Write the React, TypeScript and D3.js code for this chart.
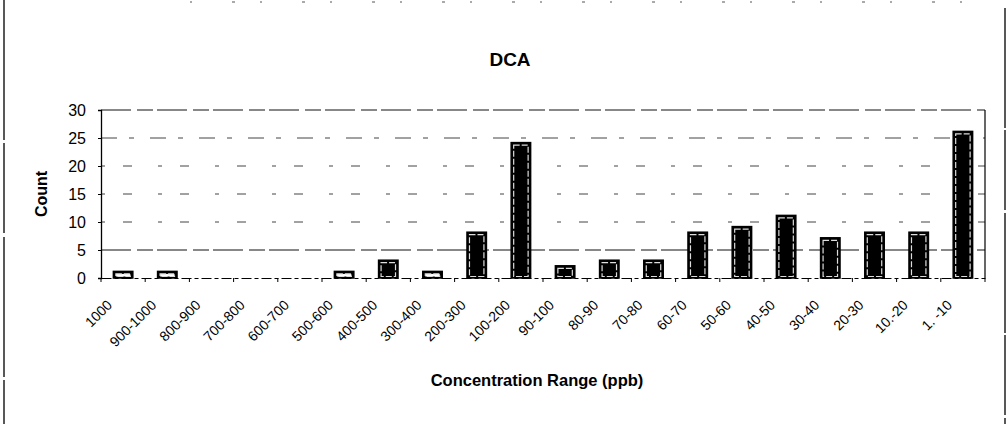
import React, { useRef, useEffect } from 'react'
import * as d3 from 'd3'

// concentration ranges (ppb), as printed under the axis
const categories = [
  '1000', '900-1000', '800-900', '700-800', '600-700', '500-600', '400-500',
  '300-400', '200-300', '100-200', '90-100', '80-90', '70-80', '60-70',
  '50-60', '40-50', '30-40', '20-30', '10.-20', '1. -10',
]
const counts = [1, 1, 0, 0, 0, 1, 3, 1, 8, 24, 2, 3, 3, 8, 9, 11, 7, 8, 8, 26]
const yTicks = [0, 5, 10, 15, 20, 25, 30]

const App: React.FC = () => {
  const svgRef = useRef<SVGSVGElement | null>(null)

  useEffect(() => {
    const svg = d3.select(svgRef.current)
    svg.selectAll('*').remove()

    const width = 1008
    const height = 424
    const margin = { top: 110, right: 23, bottom: 146, left: 101 }
    const font = '"Liberation Sans", Arial, sans-serif'

    svg.attr('width', width).attr('height', height)

    // scanned page frame
    svg.append('line').attr('x1', 4).attr('x2', 4).attr('y1', 0).attr('y2', height)
      .attr('stroke', '#222').attr('stroke-width', 1.5).attr('stroke-dasharray', '140 3 90 4')
    svg.append('line').attr('x1', 1005).attr('x2', 1005).attr('y1', 8).attr('y2', height)
      .attr('stroke', '#222').attr('stroke-width', 1.5).attr('stroke-dasharray', '120 2 80 3')
    svg.append('line').attr('x1', 190).attr('x2', 1000).attr('y1', 2).attr('y2', 2)
      .attr('stroke', '#555').attr('stroke-width', 1).attr('stroke-dasharray', '2 40 3 25')

    const x = d3.scaleBand()
      .domain(categories)
      .range([margin.left, width - margin.right])
      .paddingInner(0.56)
      .paddingOuter(0.28)

    const y = d3.scaleLinear()
      .domain([0, 30])
      .range([height - margin.bottom, margin.top])

    // gridlines (broken up, like the scan)
    svg.append('g')
      .selectAll('line')
      .data(yTicks.filter((t) => t > 0))
      .enter()
      .append('line')
      .attr('x1', margin.left)
      .attr('x2', width - margin.right)
      .attr('y1', (d) => y(d))
      .attr('y2', (d) => y(d))
      .attr('stroke', (d) => (d === 5 || d === 30 ? '#111' : '#444'))
      .attr('stroke-width', 1)
      .attr('stroke-dasharray', (d) => (d === 5 || d === 30 ? '30 6 16 4' : d === 25 ? '16 12 5 16' : '4 18 9 26'))

    // plot box
    svg.append('line')
      .attr('x1', width - margin.right).attr('x2', width - margin.right)
      .attr('y1', margin.top).attr('y2', y(0))
      .attr('stroke', '#000').attr('stroke-width', 1.2)

    const bw = x.bandwidth()
    const bars = svg.append('g')
      .selectAll('g')
      .data(categories.map((c, i) => ({ c, v: counts[i] })))
      .enter()
      .append('g')

    bars.append('rect')
      .attr('x', (d) => x(d.c)!)
      .attr('y', (d) => y(d.v) - 1)
      .attr('width', bw)
      .attr('height', (d) => (d.v > 0 ? y(0) - y(d.v) + 1 : 0))
      .attr('fill', '#000')
      .attr('stroke', '#000')
      .attr('stroke-width', 1.5)

    bars.filter((d) => d.v > 0)
      .append('rect')
      .attr('x', (d) => x(d.c)! + 2.5)
      .attr('y', (d) => y(d.v) + 1.5)
      .attr('width', bw - 5)
      .attr('height', (d) => Math.max(0, y(0) - y(d.v) - 3))
      .attr('fill', (d) => (d.v > 1 ? '#000' : '#fff'))
      .attr('stroke', '#ddd')
      .attr('stroke-width', 1.2)
      .attr('stroke-dasharray', '6 2')

    // x axis
    const xAxis = svg.append('g')
      .attr('transform', `translate(0,${y(0)})`)
      .call(d3.axisBottom(x).tickSize(0).tickPadding(0))
    xAxis.select('.domain').attr('stroke', '#000').attr('stroke-dasharray', '10 3 4 3')
    xAxis.selectAll('text').remove()

    // small ticks between categories
    svg.append('g')
      .selectAll('line')
      .data(d3.range(categories.length + 1))
      .enter()
      .append('line')
      .attr('x1', (i) => margin.left + i * x.step())
      .attr('x2', (i) => margin.left + i * x.step())
      .attr('y1', y(0))
      .attr('y2', y(0) + 4)
      .attr('stroke', '#000')

    svg.append('g')
      .selectAll('text')
      .data(categories)
      .enter()
      .append('text')
      .attr('transform', (d) => `translate(${x(d)! + bw / 2 - 10},${y(0) + 28}) rotate(-45)`)
      .attr('text-anchor', 'end')
      .attr('font-family', font)
      .attr('font-size', 14)
      .attr('fill', '#000')
      .text((d) => d)

    // y axis
    const yAxis = svg.append('g')
      .attr('transform', `translate(${margin.left},0)`)
      .call(d3.axisLeft(y).tickValues(yTicks).tickSize(3).tickPadding(12))
    yAxis.select('.domain').attr('stroke', '#000').attr('stroke-width', 1.3)
    yAxis.selectAll('text')
      .attr('font-family', font)
      .attr('font-size', 16)
      .attr('fill', '#000')

    svg.append('text')
      .attr('transform', `translate(47,${(margin.top + y(0)) / 2}) rotate(-90)`)
      .attr('text-anchor', 'middle')
      .attr('font-family', font)
      .attr('font-size', 16)
      .attr('font-weight', 'bold')
      .text('Count')

    svg.append('text')
      .attr('x', 510)
      .attr('y', 66)
      .attr('text-anchor', 'middle')
      .attr('font-family', font)
      .attr('font-size', 19)
      .attr('font-weight', 'bold')
      .text('DCA')

    svg.append('text')
      .attr('x', 537)
      .attr('y', 386)
      .attr('text-anchor', 'middle')
      .attr('font-family', font)
      .attr('font-size', 16.5)
      .attr('font-weight', 'bold')
      .text('Concentration Range (ppb)')
  }, [])

  return <svg ref={svgRef} style={{ position: 'absolute', left: 0, top: 0 }}></svg>
}

export default App
